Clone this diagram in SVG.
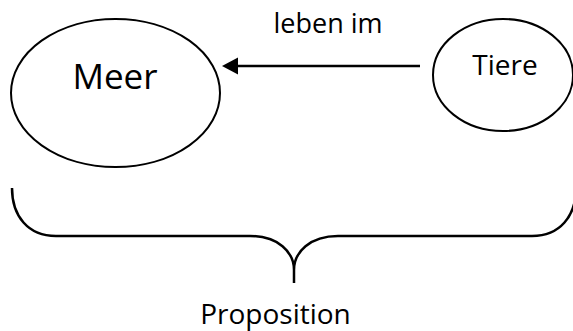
<svg xmlns="http://www.w3.org/2000/svg" width="573" height="331" viewBox="0 0 573 331">
  <style>
    .node { fill: none; stroke: #000; stroke-width: 2; }
    .edge { fill: none; stroke: #000; stroke-width: 2.5; }
    .label { font-family: "Open Sans", "Noto Sans", sans-serif; fill: #000; text-anchor: middle; }
  </style>
  <defs>
    <marker id="arrowhead" markerUnits="userSpaceOnUse" markerWidth="18" markerHeight="18" refX="0" refY="9" orient="auto-start-reverse">
      <path d="M0,9 L16,0.5 L16,17.5 Z" fill="#000"/>
    </marker>
  </defs>

  <g id="node-meer">
    <ellipse class="node" cx="115.5" cy="93" rx="104.5" ry="74"/>
    <text class="label" x="115" y="89" font-size="35">Meer</text>
  </g>

  <g id="node-tiere">
    <ellipse class="node" cx="503" cy="75" rx="70" ry="56"/>
    <text class="label" x="505" y="75" font-size="28">Tiere</text>
  </g>

  <g id="connectors">
    <line class="edge" x1="420" y1="66" x2="238" y2="66"/>
    <path d="M222,66 L238,57.5 L238,74.5 Z" fill="#000"/>
    <text class="label" x="328" y="33" font-size="27">leben im</text>
  </g>

  <g id="brace">
    <path class="edge" d="M12,188 C12,216 28,236 56,236 L250,236 C278,236 294,252 294,270 L294,283 M294,270 C294,252 310,236 338,236 L532,236 C560,236 576,216 576,188"/>
    <text class="label" x="275.5" y="324" font-size="28">Proposition</text>
  </g>
</svg>
